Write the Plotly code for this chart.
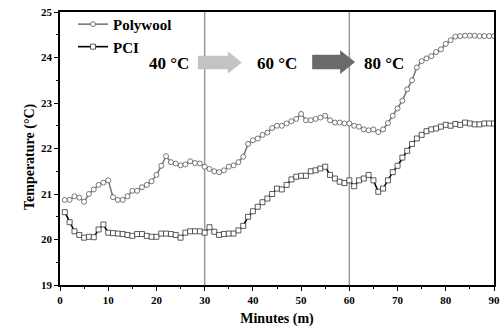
import plotly.graph_objects as go

minutes = list(range(1, 91))

polywool = [
    20.87, 20.87, 20.95, 20.92, 20.83, 21.00, 21.10, 21.20, 21.25, 21.30,
    20.93, 20.87, 20.87, 20.95, 21.07, 21.07, 21.15, 21.20, 21.28, 21.42,
    21.62, 21.83, 21.70, 21.67, 21.63, 21.65, 21.72, 21.68, 21.67, 21.60,
    21.55, 21.50, 21.48, 21.52, 21.60, 21.63, 21.70, 21.82, 22.10, 22.18,
    22.22, 22.30, 22.35, 22.45, 22.50, 22.50, 22.55, 22.60, 22.65, 22.76,
    22.62, 22.62, 22.65, 22.68, 22.72, 22.62, 22.57, 22.57, 22.55, 22.55,
    22.50, 22.48, 22.42, 22.40, 22.42, 22.36, 22.42, 22.56, 22.72, 22.88,
    23.05, 23.30, 23.50, 23.78, 23.92, 23.98, 24.03, 24.12, 24.18, 24.30,
    24.38, 24.46, 24.47, 24.48, 24.48, 24.48, 24.47, 24.47, 24.47, 24.47,
]

pci = [
    20.60, 20.38, 20.18, 20.10, 20.04, 20.06, 20.05, 20.22, 20.33, 20.15,
    20.14, 20.13, 20.12, 20.10, 20.08, 20.12, 20.12, 20.08, 20.06, 20.06,
    20.13, 20.13, 20.12, 20.10, 20.04, 20.15, 20.18, 20.18, 20.18, 20.15,
    20.27, 20.17, 20.10, 20.12, 20.13, 20.13, 20.20, 20.30, 20.50, 20.62,
    20.72, 20.82, 20.90, 21.00, 21.12, 21.10, 21.20, 21.32, 21.38, 21.40,
    21.40, 21.50, 21.52, 21.56, 21.60, 21.42, 21.34, 21.27, 21.24, 21.30,
    21.17, 21.30, 21.34, 21.42, 21.30, 21.05, 21.12, 21.30, 21.48, 21.62,
    21.80, 21.95, 22.10, 22.22, 22.30, 22.38, 22.42, 22.44, 22.48, 22.52,
    22.50, 22.54, 22.52, 22.57, 22.55, 22.53, 22.53, 22.55, 22.55, 22.55,
]

phase_lines = [30, 60]
phase_labels = ["40 °C", "60 °C", "80 °C"]
phase_label_x = [22.6, 45.0, 67.2]
label_y = 23.87

FONT = "Liberation Serif"

fig = go.Figure()
fig.add_trace(go.Scatter(
    x=minutes, y=polywool, mode="lines+markers", name="<b>Polywool</b>",
    line=dict(color="#7a7a7a", width=1.6),
    marker=dict(symbol="circle", size=5, color="white",
                line=dict(color="#555555", width=0.8)),
))
fig.add_trace(go.Scatter(
    x=minutes, y=pci, mode="lines+markers", name="<b>PCI</b>",
    line=dict(color="black", width=1.6),
    marker=dict(symbol="square", size=5, color="white",
                line=dict(color="#333333", width=0.8)),
))

for xv in phase_lines:
    fig.add_shape(type="line", x0=xv, x1=xv, y0=19, y1=25, xref="x", yref="y",
                  line=dict(color="#9a9a9a", width=1.5), layer="below")

def arrow(x0, xh, x1, yc, hb, hh, color):
    p = (f"M {x0},{yc-hb} L {xh},{yc-hb} L {xh},{yc-hh} L {x1},{yc} "
         f"L {xh},{yc+hh} L {xh},{yc+hb} L {x0},{yc+hb} Z")
    fig.add_shape(type="path", path=p, xref="x", yref="y",
                  fillcolor=color, line=dict(width=0), layer="above")

arrow(28.6, 34.8, 37.7, 23.89, 0.15, 0.245, "#c3c3c3")
arrow(52.3, 58.1, 61.2, 23.90, 0.16, 0.26, "#6a6a6a")

for t, xv in zip(phase_labels, phase_label_x):
    fig.add_annotation(x=xv, y=label_y, xref="x", yref="y", text=f"<b>{t}</b>",
                       showarrow=False, font=dict(family=FONT, size=17, color="black"))

# y-axis title placed as rotated annotation to match reference position
fig.add_annotation(x=-0.092, y=0.469, xref="paper", yref="paper",
                   text="<b>Temperature (°C)</b>", textangle=-90, showarrow=False,
                   font=dict(family=FONT, size=14, color="black"))

fig.update_layout(
    width=500, height=328,
    margin=dict(l=60, r=6, t=12, b=43),
    paper_bgcolor="white", plot_bgcolor="white",
    font=dict(family=FONT, color="black"),
    showlegend=True,
    legend=dict(x=0.03, y=1.015, xanchor="left", yanchor="top",
                bgcolor="rgba(0,0,0,0)", font=dict(family=FONT, size=15),
                tracegroupgap=0, itemwidth=30),
)
fig.update_xaxes(
    range=[0, 90], dtick=10, tick0=0,
    showline=True, linecolor="black", linewidth=1.5, mirror=True,
    ticks="outside", ticklen=4, tickwidth=1.2, tickcolor="black",
    minor=dict(dtick=5, ticks="outside", ticklen=2.5, tickwidth=1, tickcolor="black"),
    showgrid=False, zeroline=False,
    tickfont=dict(family=FONT, size=11, weight="bold"),
    title=dict(text="<b>Minutes (m)</b>", font=dict(family=FONT, size=14), standoff=8),
    automargin=False,
)
fig.update_yaxes(
    range=[19, 25], dtick=1, tick0=19,
    showline=True, linecolor="black", linewidth=1.5, mirror=True,
    ticks="outside", ticklen=4, tickwidth=1.2, tickcolor="black",
    minor=dict(dtick=0.5, ticks="outside", ticklen=2.5, tickwidth=1, tickcolor="black"),
    showgrid=False, zeroline=False,
    tickfont=dict(family=FONT, size=11, weight="bold"),
    automargin=False,
)

fig.write_html(
    "out.html",
    config={"displayModeBar": False},
    post_script="document.body.style.margin='0';document.body.style.overflow='hidden';",
)
